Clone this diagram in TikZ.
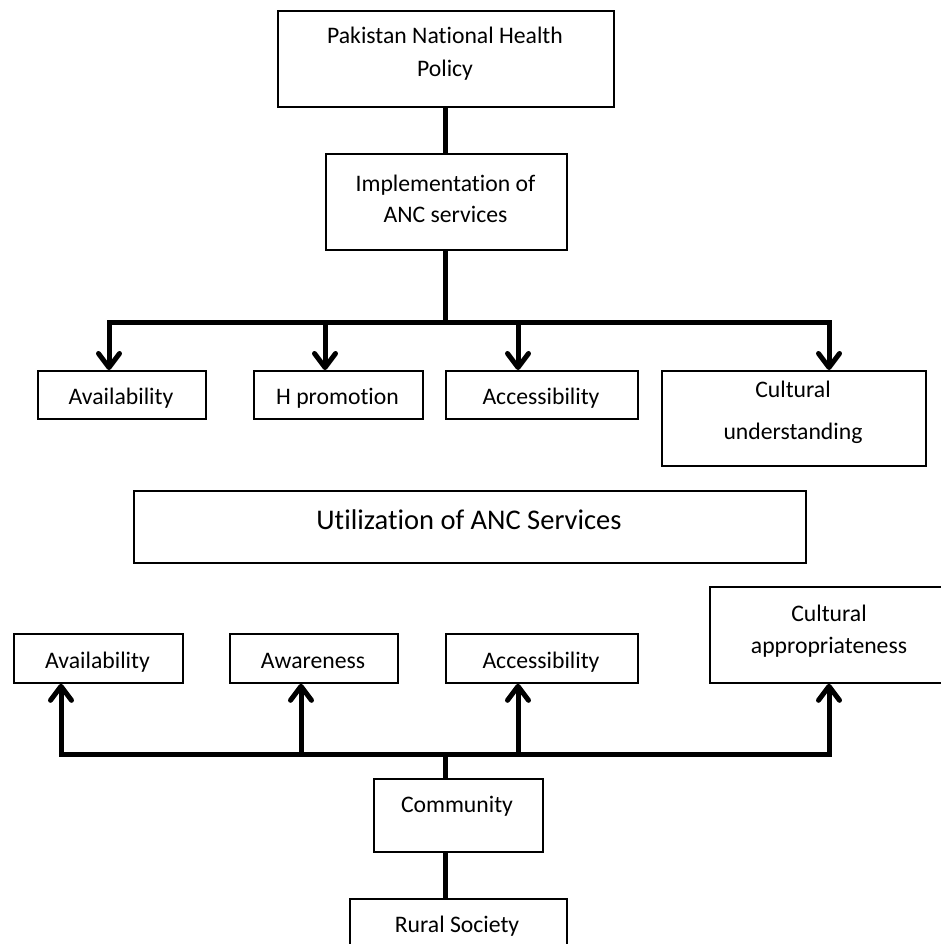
\documentclass[tikz,border=0pt]{standalone}
\usepackage{fontspec}
\setmainfont{Carlito}[Ligatures=NoCommon]
\usetikzlibrary{arrows.meta}
\begin{document}
\begin{tikzpicture}[x=1pt,y=-1pt,
  box/.style={draw, line width=1.8pt, rectangle, inner sep=0pt, anchor=north west},
  lbl/.style={anchor=base, inner sep=0pt, font=\fontsize{23.7}{28}\selectfont},
  biglbl/.style={anchor=base, inner sep=0pt, font=\fontsize{28.5}{34}\selectfont},
  conn/.style={line width=5pt, line join=miter},
  barb/.style={-{Straight Barb[length=14pt,width=21pt,line cap=round,line join=round]}},
]
\useasboundingbox (0,0) rectangle (941,944);
\clip (0,0) rectangle (941,944);

% policy level
\node[box, minimum width=336pt, minimum height=96pt] (top) at (277,10) {};
\node[lbl] at (445,44) {Pakistan National Health};
\node[lbl] at (445,77) {Policy};

\node[box, minimum width=241pt, minimum height=96pt] (impl) at (325,153) {};
\node[lbl] at (445.5,192) {Implementation of};
\node[lbl] at (445.5,222) {ANC services};

% implementation factors
\node[box, minimum width=168pt, minimum height=48pt] (u1) at (37,370) {};
\node[lbl] at (121,404) {Availability};
\node[box, minimum width=169pt, minimum height=48pt] (u2) at (253,370) {};
\node[lbl] at (337.5,404) {H promotion};
\node[box, minimum width=192pt, minimum height=48pt] (u3) at (445,370) {};
\node[lbl] at (541,404) {Accessibility};
\node[box, minimum width=264pt, minimum height=95pt] (u4) at (661,370) {};
\node[lbl] at (793,397) {Cultural};
\node[lbl] at (793,439) {understanding};

% central box
\node[box, minimum width=672pt, minimum height=72pt] (util) at (133,490) {};
\node[biglbl] at (469,529) {Utilization of ANC Services};

% utilization factors
\node[box, minimum width=169pt, minimum height=49pt] (d1) at (13,633) {};
\node[lbl] at (97.5,668) {Availability};
\node[box, minimum width=168pt, minimum height=49pt] (d2) at (229,633) {};
\node[lbl] at (313,668) {Awareness};
\node[box, minimum width=192pt, minimum height=49pt] (d3) at (445,633) {};
\node[lbl] at (541,668) {Accessibility};
\node[box, minimum width=240pt, minimum height=96pt] (d4) at (709,586) {};
\node[lbl] at (829,621) {Cultural};
\node[lbl] at (829,653) {appropriateness};

% community level
\node[box, minimum width=169pt, minimum height=73pt] (comm) at (373,778) {};
\node[lbl] at (457,812) {Community};
\node[box, minimum width=217pt, minimum height=70pt] (rural) at (349,898) {};
\node[lbl] at (457,932) {Rural Society};

% junction points
\coordinate (sp1) at (445,322);
\coordinate (a1) at (109,322);
\coordinate (a2) at (325,322);
\coordinate (a3) at (518,322);
\coordinate (a4) at (829,322);
\coordinate (sp2) at (445,754);
\coordinate (b1) at (61,754);
\coordinate (b2) at (301,754);
\coordinate (b3) at (518,754);
\coordinate (b4) at (829,754);

% top-down connectors
\draw[conn] (top.south -| sp1) -- (impl.north -| sp1);
\draw[conn] (impl.south -| sp1) -- (sp1);
\draw[conn,barb] (sp1) -| (a1 |- u1.north);
\draw[conn,barb] (sp1) -| (a4 |- u4.north);
\draw[conn,barb] (a2) -- (a2 |- u2.north);
\draw[conn,barb] (a3) -- (a3 |- u3.north);

% bottom-up connectors
\draw[conn] (rural.north -| sp2) -- (comm.south -| sp2);
\draw[conn] (comm.north -| sp2) -- (sp2);
\draw[conn,barb] (sp2) -| (b1 |- d1.south);
\draw[conn,barb] (sp2) -| (b4 |- d4.south);
\draw[conn,barb] (b2) -- (b2 |- d2.south);
\draw[conn,barb] (b3) -- (b3 |- d3.south);
\end{tikzpicture}
\end{document}
